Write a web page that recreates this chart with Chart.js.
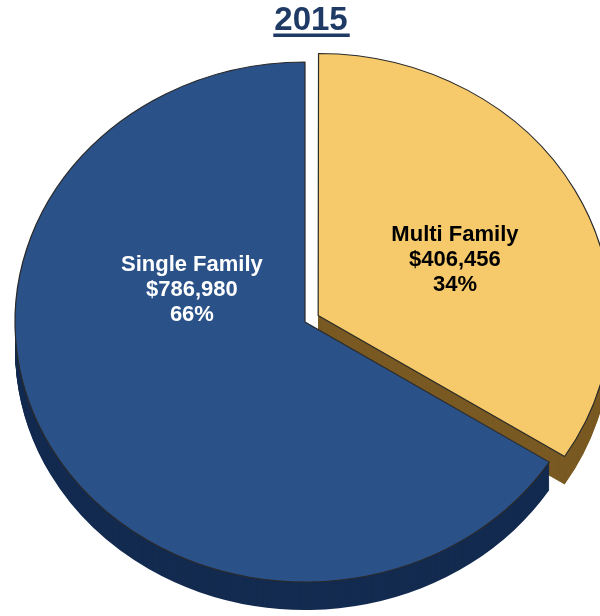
<!DOCTYPE html>
<html>
<head>
<meta charset="utf-8">
<script src="https://cdn.jsdelivr.net/npm/chart.js@4/dist/chart.umd.min.js"></script>
<style>
  body { margin: 0; background: #fff; }
  #wrap { width: 600px; height: 616px; }
</style>
</head>
<body>
<div id="wrap"><canvas id="pie"></canvas></div>
<script>
var categories = ['Multi Family', 'Single Family'];
var amounts = [406456, 786980];
var topColors = ['#F6CA6A', '#2B5189'];
var sideColors = ['#7A5A23', '#142B50'];
var labelColors = ['#000000', '#FFFFFF'];
var explode = [60, 0];
// label anchors, in fractions of the radius from the pie centre
var labelSpots = [[0.517, -0.238], [-0.39, -0.123]];

var total = amounts.reduce(function(a, b){ return a + b; }, 0);

// tilt + thickness of the fake 3d disc
var tilt = { cx: 305, cy: 322, squash: 260 / 290, depth: 28 };

function money(v){ return '$' + v.toLocaleString('en-US'); }

function tiltCtx(ctx, arc){
  ctx.translate(tilt.cx, tilt.cy);
  ctx.scale(1, tilt.squash);
  ctx.translate(-arc.x, -arc.y);
}

var pie3d = {
  id: 'pie3d',
  beforeDatasetsDraw: function(chart){
    var ctx = chart.ctx;
    var arcs = chart.getDatasetMeta(0).data;
    ctx.save();
    tiltCtx(ctx, arcs[0]);
    // stack shifted copies underneath to make the sides
    arcs.forEach(function(arc, i){
      var side = Object.create(arc);
      side.options = Object.assign({}, arc.options, {
        backgroundColor: sideColors[i], borderColor: sideColors[i], borderWidth: 0
      });
      for (var k = tilt.depth; k >= 1; k--) {
        ctx.save();
        ctx.translate(0, k / tilt.squash);
        Chart.ArcElement.prototype.draw.call(side, ctx);
        ctx.restore();
      }
    });
  },
  afterDatasetsDraw: function(chart){
    chart.ctx.restore();
  },
  afterDraw: function(chart){
    var ctx = chart.ctx;
    var arcs = chart.getDatasetMeta(0).data;
    var r = arcs[0].outerRadius;

    ctx.save();
    ctx.font = 'bold 22px "Liberation Sans", Arial, sans-serif';
    ctx.textAlign = 'center';
    ctx.textBaseline = 'middle';
    categories.forEach(function(name, i){
      var x = tilt.cx + labelSpots[i][0] * r;
      var y = tilt.cy + labelSpots[i][1] * r * tilt.squash;
      var pct = Math.round(amounts[i] / total * 100) + '%';
      ctx.fillStyle = labelColors[i];
      ctx.fillText(name, x, y - 25);
      ctx.fillText(money(amounts[i]), x, y);
      ctx.fillText(pct, x, y + 25);
    });

    // underline under the title
    var tb = chart.titleBlock;
    ctx.font = 'bold 33px "Liberation Sans", Arial, sans-serif';
    var w = ctx.measureText(chart.options.plugins.title.text).width;
    var mid = tb.left + tb.width / 2;
    ctx.fillStyle = '#1F3A64';
    ctx.fillRect(mid - w / 2 - 1, 33.5, w + 3, 3.5);
    ctx.restore();
  }
};

new Chart(document.getElementById('pie'), {
  type: 'pie',
  data: {
    labels: categories,
    datasets: [{
      data: amounts,
      backgroundColor: topColors,
      borderColor: '#2a2a2a',
      borderWidth: 1.2,
      offset: explode,
      hoverOffset: 0,
      clip: false
    }]
  },
  options: {
    responsive: true,
    maintainAspectRatio: false,
    animation: false,
    events: [],
    radius: 290,
    layout: { padding: { left: 22 } },
    plugins: {
      legend: { display: false },
      tooltip: { enabled: false },
      title: {
        display: true,
        text: '2015',
        color: '#1F3A64',
        font: { family: '"Liberation Sans", Arial, sans-serif', size: 33, weight: 'bold', lineHeight: 1.1 },
        padding: { top: 3, bottom: 4 }
      }
    }
  },
  plugins: [pie3d]
});
</script>
</body>
</html>
